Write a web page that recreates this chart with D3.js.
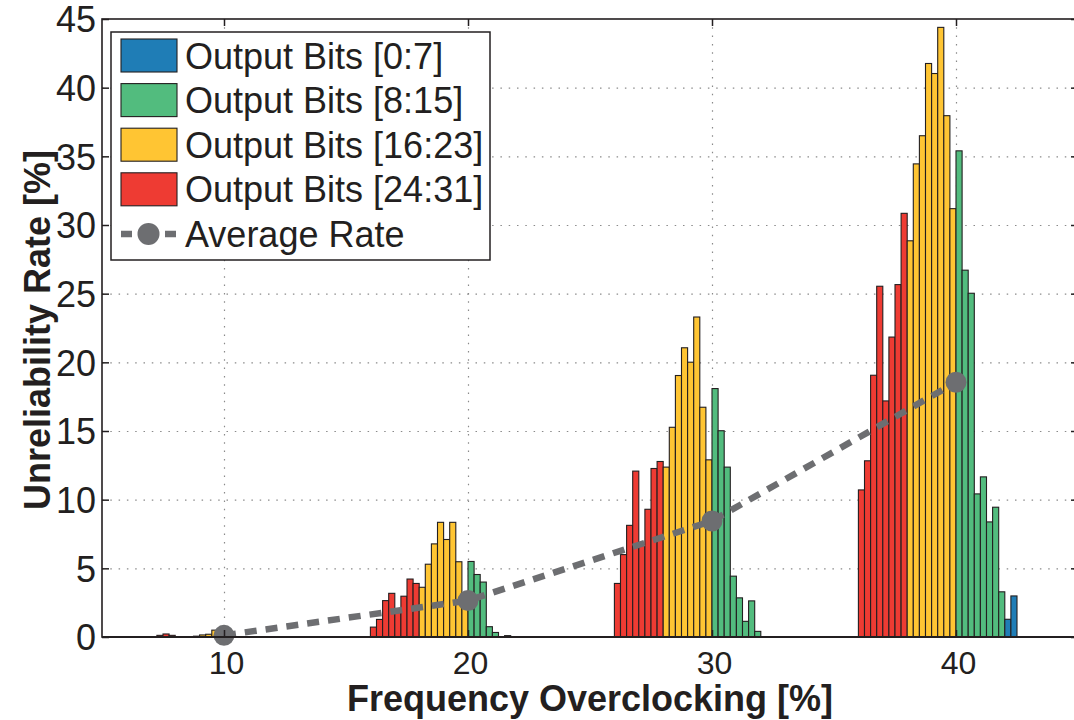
<!DOCTYPE html>
<html>
<head>
<meta charset="utf-8">
<script src="https://cdn.jsdelivr.net/npm/d3@7"></script>
<style>
  body { margin: 0; background: #fff; }
  svg { display: block; font-family: "Liberation Sans", Arial, sans-serif; }
</style>
</head>
<body>
<svg id="chart"></svg>
<script>
// overclocking levels (x) and per-bit unreliability, left to right = bit 31 ... bit 0
var overclock = [10, 20, 30, 40]
var rate10 = [0, 0, 0, 0, 0, 0.12, 0.22, 0.12, 0, 0, 0, 0.06, 0.15, 0.2, 0.5, 0.6,
              0, 0, 0, 0, 0, 0, 0, 0, 0, 0, 0, 0, 0, 0, 0, 0]
var rate20 = [0.72, 1.28, 2.65, 3.18, 1.8, 2.97, 4.22, 3.9, 3.62, 5.3, 6.78, 8.35, 7.1, 8.35, 5.48, 2.6,
              5.5, 4.55, 4.0, 0.75, 0.33, 0, 0.1, 0, 0, 0, 0, 0, 0, 0, 0, 0]
var rate30 = [3.9, 6.0, 8.13, 12.08, 6.74, 9.3, 12.27, 12.78, 12.37, 15.27, 19.04, 21.06, 20.01, 23.3, 16.73, 12.9,
              18.09, 15.02, 12.37, 4.43, 2.85, 1.14, 2.63, 0.41, 0, 0, 0, 0, 0, 0, 0, 0]
var rate40 = [10.71, 12.83, 19.06, 25.54, 17.19, 21.84, 25.66, 30.85, 28.85, 34.45, 36.5, 41.76, 41.03, 44.39, 37.96, 31.19,
              35.4, 26.71, 25.03, 10.42, 11.66, 8.38, 9.45, 3.29, 1.29, 2.99, 0, 0, 0, 0, 0, 0]
var averageRate = [0.12, 2.65, 8.45, 18.55]

var legendLabels = ["Output Bits [0:7]", "Output Bits [8:15]", "Output Bits [16:23]", "Output Bits [24:31]"]
var legendColors = ["#1f7db6", "#52bc7e", "#ffc533", "#ee3b33"]
var yTicks = [0, 5, 10, 15, 20, 25, 30, 35, 40, 45]
var xTicks = [10, 20, 30, 40]

var width = 1074, height = 720
var ink = "#231f20", dotColor = "#6d6e71"

var x = d3.scaleLinear().domain([5, 45]).range([102, 1078])
var y = d3.scaleLinear().domain([0, 45]).range([637, 19])

// bit index -> color group (bit 31..24 red, 23..16 yellow, 15..8 green, 7..0 blue)
var colorOf = bit => legendColors[Math.floor(bit / 8)]

var rates = [rate10, rate20, rate30, rate40]
var bars = []
overclock.forEach((g, gi) => {
  rates[gi].forEach((v, i) => {
    bars.push({x0: g - 4 + i * 0.25, x1: g - 4 + (i + 1) * 0.25, bit: 31 - i, value: v})
  })
})
bars = bars.filter(d => d.value > 0)

var svg = d3.select("#chart").attr("width", width).attr("height", height)

// grid
var grid = svg.append("g").attr("stroke", "#8a8a8a").attr("stroke-width", 1.2)
  .attr("stroke-dasharray", "1.5,6.8")
grid.selectAll(".gy").data(yTicks.slice(1, -1)).join("line")
  .attr("x1", x(5)).attr("x2", x(45))
  .attr("y1", d => y(d) + 0.5).attr("y2", d => y(d) + 0.5)
grid.selectAll(".gx").data(xTicks).join("line")
  .attr("x1", d => x(d) + 0.5).attr("x2", d => x(d) + 0.5)
  .attr("y1", y(45)).attr("y2", y(0))

// bars
svg.append("g")
  .selectAll("rect")
  .data(bars)
  .join("rect")
    .attr("x", d => x(d.x0))
    .attr("y", d => y(d.value))
    .attr("width", d => x(d.x1) - x(d.x0))
    .attr("height", d => y(0) - y(d.value))
    .attr("fill", d => colorOf(d.bit))
    .attr("stroke", ink)
    .attr("stroke-width", 1.1)

// average rate line + dots
var avg = overclock.map((g, i) => [g, averageRate[i]])
svg.append("path")
  .datum(avg)
  .attr("fill", "none")
  .attr("stroke", dotColor)
  .attr("stroke-width", 6.5)
  .attr("stroke-dasharray", "12,9")
  .attr("d", d3.line().x(d => x(d[0])).y(d => y(d[1])))
svg.append("g").selectAll("circle").data(avg).join("circle")
  .attr("cx", d => x(d[0])).attr("cy", d => y(d[1])).attr("r", 10.5)
  .attr("fill", dotColor)

// axes (ticks pointing inward)
svg.append("g")
  .attr("transform", `translate(${x(5)},0)`)
  .call(d3.axisLeft(y).tickValues(yTicks).tickSize(-7).tickPadding(6))
  .call(g => g.select(".domain").remove())
  .call(g => g.selectAll("line").attr("stroke", ink).attr("stroke-width", 1.5))
  .call(g => g.selectAll("text")
      .attr("fill", ink)
      .attr("font-size", 36)
      .attr("dy", "0.36em"))

svg.append("g")
  .attr("transform", `translate(0,${y(0)})`)
  .call(d3.axisBottom(x).tickValues(xTicks).tickSize(-7).tickPadding(14))
  .call(g => g.select(".domain").remove())
  .call(g => g.selectAll("line").attr("stroke", ink).attr("stroke-width", 1.5))
  .call(g => g.selectAll("text").attr("fill", ink).attr("font-size", 32).attr("dx", 2))

svg.append("g")
  .attr("transform", `translate(0,${y(45)})`)
  .call(d3.axisTop(x).tickValues(xTicks).tickSize(-7).tickFormat(""))
  .call(g => g.select(".domain").remove())
  .call(g => g.selectAll("line").attr("stroke", ink).attr("stroke-width", 1.5))

svg.append("g")
  .attr("transform", `translate(${x(45)},0)`)
  .call(d3.axisRight(y).tickValues(yTicks).tickSize(-7).tickFormat(""))
  .call(g => g.select(".domain").remove())
  .call(g => g.selectAll("line").attr("stroke", ink).attr("stroke-width", 1.5))

// frame
svg.append("rect")
  .attr("x", x(5)).attr("y", y(45))
  .attr("width", x(45) - x(5)).attr("height", y(0) - y(45))
  .attr("fill", "none").attr("stroke", ink).attr("stroke-width", 1.6)
svg.append("line")
  .attr("x1", x(5)).attr("x2", x(45)).attr("y1", y(0)).attr("y2", y(0))
  .attr("stroke", ink).attr("stroke-width", 2.2)

// axis titles
svg.append("text")
  .attr("x", 590).attr("y", 711)
  .attr("text-anchor", "middle")
  .attr("font-size", 36).attr("font-weight", "bold").attr("fill", ink)
  .text("Frequency Overclocking [%]")
svg.append("text")
  .attr("transform", "translate(50,330) rotate(-90)")
  .attr("text-anchor", "middle")
  .attr("font-size", 36).attr("font-weight", "bold").attr("fill", ink)
  .text("Unreliability Rate [%]")

// legend
var legend = svg.append("g")
legend.append("rect")
  .attr("x", 111).attr("y", 32).attr("width", 379).attr("height", 228)
  .attr("fill", "#fff").attr("stroke", ink).attr("stroke-width", 1.5)

var rowY = i => 55.5 + i * 44.6
var items = legendLabels.map((l, i) => ({label: l, color: legendColors[i]}))
var row = legend.selectAll(".row").data(items).join("g")
  .attr("transform", (d, i) => `translate(0,${rowY(i)})`)
row.append("rect")
  .attr("x", 121).attr("y", -16.5).attr("width", 56).attr("height", 33)
  .attr("fill", d => d.color).attr("stroke", ink).attr("stroke-width", 1.1)
row.append("text")
  .attr("x", 185).attr("y", 13)
  .attr("font-size", 36).attr("fill", ink)
  .text(d => d.label)

var avgRow = legend.append("g").attr("transform", `translate(0,${rowY(4)})`)
avgRow.append("line")
  .attr("x1", 121).attr("x2", 176).attr("y1", 0).attr("y2", 0)
  .attr("stroke", dotColor).attr("stroke-width", 6.5).attr("stroke-dasharray", "11,33")
avgRow.append("circle").attr("cx", 148.5).attr("cy", 0).attr("r", 11).attr("fill", dotColor)
avgRow.append("text")
  .attr("x", 185).attr("y", 13)
  .attr("font-size", 36).attr("fill", ink)
  .text("Average Rate")
</script>
</body>
</html>
